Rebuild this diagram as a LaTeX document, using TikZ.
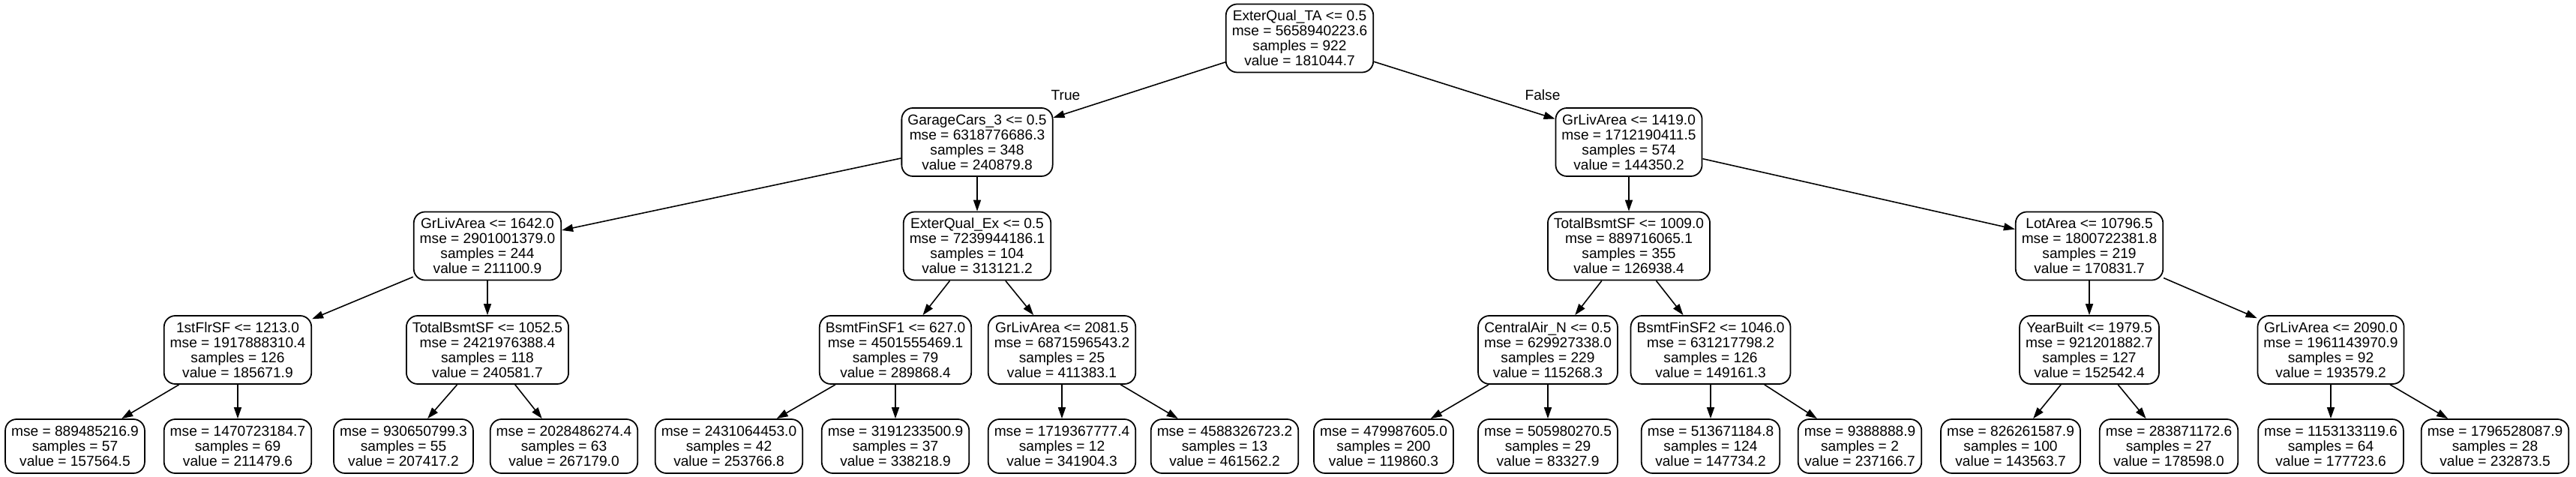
\documentclass[tikz,border=0pt]{standalone}
\usepackage{fontspec}
\setmainfont{Liberation Sans}
\usetikzlibrary{arrows.meta}

\newcommand{\treefont}{\fontsize{5.45pt}{5.69pt}\selectfont}

\tikzset{
    decision/.style={draw=black, line width=0.5pt, rounded corners=0.15cm, fill=white,
        align=center, inner xsep=0.08cm, inner ysep=0pt, minimum height=0.91cm, font=\treefont},
    leaf/.style={decision, minimum height=0.72cm},
    branch/.style={line width=0.45pt, -{Triangle[length=0.15cm, width=0.10cm]}},
    answer/.style={font=\treefont, inner sep=0pt}
}

\begin{document}
\begin{tikzpicture}
\useasboundingbox (0,0) rectangle (34.35,-6.36);

% === Nodos de decision ===
\node[decision] (d0) at (17.33, -0.51) {ExterQual\_TA <= 0.5\\mse = 5658940223.6\\samples = 922\\value = 181044.7};

\node[decision] (d1) at (13.03, -1.895) {GarageCars\_3 <= 0.5\\mse = 6318776686.3\\samples = 348\\value = 240879.8};
\node[decision] (d2) at (21.72, -1.895) {GrLivArea <= 1419.0\\mse = 1712190411.5\\samples = 574\\value = 144350.2};

\node[decision] (d3) at (6.50, -3.28) {GrLivArea <= 1642.0\\mse = 2901001379.0\\samples = 244\\value = 211100.9};
\node[decision] (d4) at (13.03, -3.28) {ExterQual\_Ex <= 0.5\\mse = 7239944186.1\\samples = 104\\value = 313121.2};
\node[decision] (d5) at (21.72, -3.28) {TotalBsmtSF <= 1009.0\\mse = 889716065.1\\samples = 355\\value = 126938.4};
\node[decision] (d6) at (27.86, -3.28) {LotArea <= 10796.5\\mse = 1800722381.8\\samples = 219\\value = 170831.7};

\node[decision] (d7) at (3.17, -4.665) {1stFlrSF <= 1213.0\\mse = 1917888310.4\\samples = 126\\value = 185671.9};
\node[decision] (d8) at (6.50, -4.665) {TotalBsmtSF <= 1052.5\\mse = 2421976388.4\\samples = 118\\value = 240581.7};
\node[decision] (d9) at (11.94, -4.665) {BsmtFinSF1 <= 627.0\\mse = 4501555469.1\\samples = 79\\value = 289868.4};
\node[decision] (d10) at (14.16, -4.665) {GrLivArea <= 2081.5\\mse = 6871596543.2\\samples = 25\\value = 411383.1};
\node[decision] (d11) at (20.64, -4.665) {CentralAir\_N <= 0.5\\mse = 629927338.0\\samples = 229\\value = 115268.3};
\node[decision] (d12) at (22.81, -4.665) {BsmtFinSF2 <= 1046.0\\mse = 631217798.2\\samples = 126\\value = 149161.3};
\node[decision] (d13) at (27.86, -4.665) {YearBuilt <= 1979.5\\mse = 921201882.7\\samples = 127\\value = 152542.4};
\node[decision] (d14) at (31.08, -4.665) {GrLivArea <= 2090.0\\mse = 1961143970.9\\samples = 92\\value = 193579.2};

% === Hojas ===
\node[leaf] (l1) at (1.00, -5.95) {mse = 889485216.9\\samples = 57\\value = 157564.5};
\node[leaf] (l2) at (3.17, -5.95) {mse = 1470723184.7\\samples = 69\\value = 211479.6};
\node[leaf] (l3) at (5.38, -5.95) {mse = 930650799.3\\samples = 55\\value = 207417.2};
\node[leaf] (l4) at (7.52, -5.95) {mse = 2028486274.4\\samples = 63\\value = 267179.0};
\node[leaf] (l5) at (9.72, -5.95) {mse = 2431064453.0\\samples = 42\\value = 253766.8};
\node[leaf] (l6) at (11.94, -5.95) {mse = 3191233500.9\\samples = 37\\value = 338218.9};
\node[leaf] (l7) at (14.16, -5.95) {mse = 1719367777.4\\samples = 12\\value = 341904.3};
\node[leaf] (l8) at (16.33, -5.95) {mse = 4588326723.2\\samples = 13\\value = 461562.2};
\node[leaf] (l9) at (18.45, -5.95) {mse = 479987605.0\\samples = 200\\value = 119860.3};
\node[leaf] (l10) at (20.64, -5.95) {mse = 505980270.5\\samples = 29\\value = 83327.9};
\node[leaf] (l11) at (22.81, -5.95) {mse = 513671184.8\\samples = 124\\value = 147734.2};
\node[leaf] (l12) at (24.80, -5.95) {mse = 9388888.9\\samples = 2\\value = 237166.7};
\node[leaf] (l13) at (26.81, -5.95) {mse = 826261587.9\\samples = 100\\value = 143563.7};
\node[leaf] (l14) at (28.92, -5.95) {mse = 283871172.6\\samples = 27\\value = 178598.0};
\node[leaf] (l15) at (31.08, -5.95) {mse = 1153133119.6\\samples = 64\\value = 177723.6};
\node[leaf] (l16) at (33.27, -5.95) {mse = 1796528087.9\\samples = 28\\value = 232873.5};

% === Aristas (padre/hijo) ===
\foreach \a/\b in {d0/d1, d0/d2, d1/d3, d1/d4, d2/d5, d2/d6,
                   d3/d7, d3/d8, d4/d9, d4/d10, d5/d11, d5/d12, d6/d13, d6/d14,
                   d7/l1, d7/l2, d8/l3, d8/l4, d9/l5, d9/l6, d10/l7, d10/l8,
                   d11/l9, d11/l10, d12/l11, d12/l12, d13/l13, d13/l14, d14/l15, d14/l16} {
    \draw[branch] (\a) -- (\b);
}

% Etiquetas de la primera division
\node[answer] (yes) at (14.21, -1.27) {True};
\node[answer] (no) at (20.57, -1.27) {False};

\end{tikzpicture}
\end{document}
